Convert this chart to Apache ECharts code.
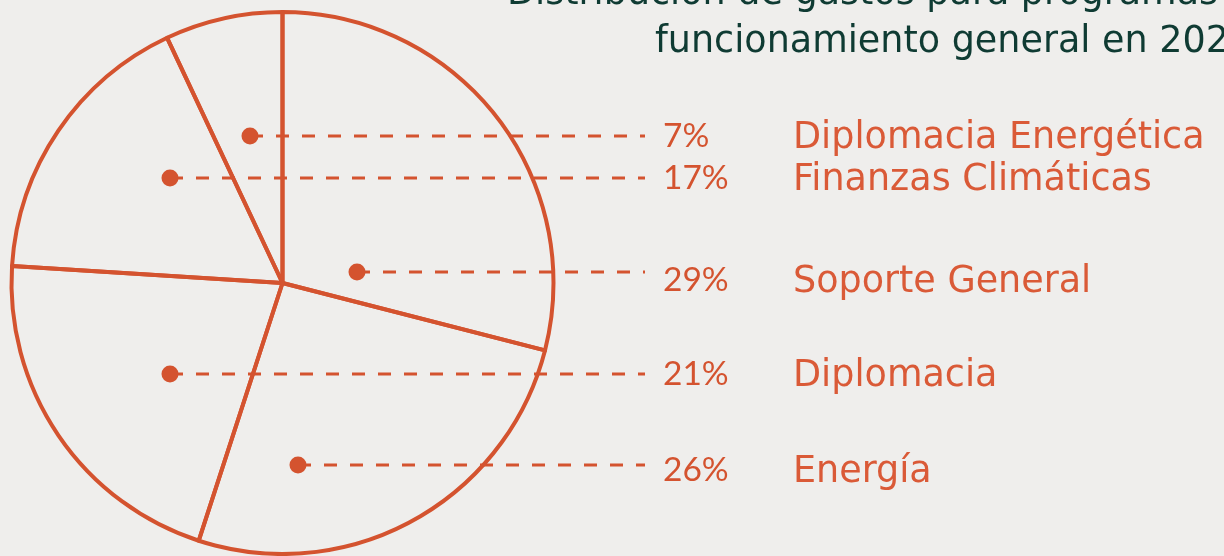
<!DOCTYPE html>
<html>
<head>
<meta charset="utf-8">
<script src="https://cdn.jsdelivr.net/npm/echarts@6/dist/echarts.min.js"></script>
<style>
html,body{margin:0;padding:0;background:#efeeec;}
#chart{width:1224px;height:556px;}
</style>
</head>
<body>
<div id="chart"></div>
<script>
// ---- data ----
const categories = ['Soporte General', 'Energía', 'Diplomacia', 'Finanzas Climáticas', 'Diplomacia Energética'];
const values = [29, 26, 21, 17, 7];
const titleLines = ['Distribución de gastos para programas y', 'funcionamiento general en 2023'];

// ---- layout (annotation anchors, not data) ----
const ORANGE = '#d4532f';
const rowY = [272, 465, 374, 178, 136];      // dashed leader rows per category
const dotX = [357, 298, 170, 170, 250];      // dot anchors inside slices
const textDy = [8, 5.5, 0, 0.5, 0.5];
const lineEndX = 645;
const labelX = 663;

const chart = echarts.init(document.getElementById('chart'));

const titleFont = '36.5px "DejaVu Sans"';
const graphics = [
  { type: 'text', z: 20, style: { x: 507, y: -5, text: titleLines[0], fill: '#0f3b33', font: titleFont, verticalAlign: 'middle' } },
  { type: 'text', z: 20, style: { x: 655, y: 42.5, text: titleLines[1], fill: '#0f3b33', font: titleFont, verticalAlign: 'middle' } }
];
categories.forEach((c, i) => {
  graphics.push({ type: 'circle', z: 10, shape: { cx: dotX[i], cy: rowY[i], r: 8.5 }, style: { fill: ORANGE } });
});

chart.setOption({
  backgroundColor: '#efeeec',
  animation: false,
  graphic: graphics,
  series: [{
    type: 'pie',
    silent: true,
    center: [282.5, 283],
    radius: 271,
    startAngle: 90,
    clockwise: true,
    avoidLabelOverlap: false,
    itemStyle: { color: 'rgba(0,0,0,0)', borderColor: ORANGE, borderWidth: 4 },
    data: categories.map((c, i) => ({ name: c, value: values[i] })),
    label: {
      show: true,
      position: 'outside',
      formatter: p => '{p|' + p.value + '%}{n|' + p.name + '}',
      rich: {
        p: { fontFamily: 'Lato', fontSize: 33.5, color: ORANGE, width: 130, lineHeight: 44, verticalAlign: 'middle' },
        n: { fontFamily: 'DejaVu Sans', fontSize: 36.5, color: '#da5a37', lineHeight: 44, verticalAlign: 'middle', padding: [5, 0, 0, 0] }
      }
    },
    labelLine: {
      show: true,
      lineStyle: { color: ORANGE, width: 3, type: [13, 13] }
    },
    labelLayout: function (params) {
      const i = params.dataIndex;
      return {
        x: labelX,
        y: rowY[i] + textDy[i],
        align: 'left',
        verticalAlign: 'middle',
        labelLinePoints: [[dotX[i], rowY[i]], [dotX[i] + 1, rowY[i]], [lineEndX, rowY[i]]]
      };
    }
  }]
});
</script>
</body>
</html>
